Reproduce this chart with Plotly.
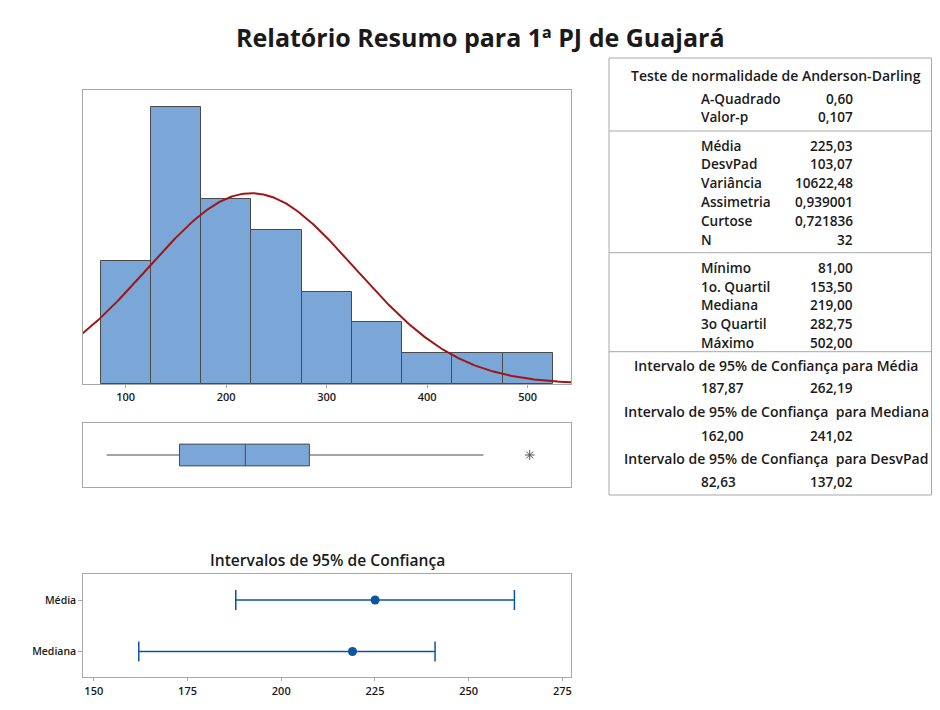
import numpy as np
import plotly.graph_objects as go

# ---------------- data ----------------
bin_centers = [100, 150, 200, 250, 300, 350, 400, 450, 500]
bin_counts = [4, 9, 6, 5, 3, 2, 1, 1, 1]
bin_width = 50

mean_val = 225.03
sd_val = 103.07
n_obs = 32

box_min = 81.0
box_q1 = 153.5
box_median = 219.0
box_q3 = 282.75
box_upper_whisker = 456.0
box_outliers = [502.0]

ci_labels = ["Mediana", "Média"]
ci_centers = [219.0, 225.03]
ci_low = [162.00, 187.87]
ci_high = [241.02, 262.19]

hist_ticks = [100, 200, 300, 400, 500]
ci_ticks = [150, 175, 200, 225, 250, 275]

ad_labels = ["A-Quadrado", "Valor-p"]
ad_values = ["0,60", "0,107"]
desc_labels = ["Média", "DesvPad", "Variância", "Assimetria", "Curtose", "N"]
desc_values = ["225,03", "103,07", "10622,48", "0,939001", "0,721836", "32"]
quart_labels = ["Mínimo", "1o. Quartil", "Mediana", "3o Quartil", "Máximo"]
quart_values = ["81,00", "153,50", "219,00", "282,75", "502,00"]
ci_titles = ["Intervalo de 95% de Confiança para Média",
             "Intervalo de 95% de Confiança  para Mediana",
             "Intervalo de 95% de Confiança  para DesvPad"]
ci_table_values = [("187,87", "262,19"), ("162,00", "241,02"), ("82,63", "137,02")]

title_text = "Relatório Resumo para 1ª PJ de Guajará"
ci_panel_title = "Intervalos de 95% de Confiança"

# ---------------- styling ----------------
W, H = 924, 694
OFF = 8  # page body margin
FONT = "Open Sans"
BAR_FILL = "#7BA6D8"
BAR_LINE = "#4A4A4A"
FRAME = "#A8A8A8"
CURVE = "#A01515"
BLUE = "#0B55A5"
TXT = "#1A1A1A"


def px(x):
    return (x - OFF) / W


def py(y):
    return 1 - (y - OFF) / H


fig = go.Figure()

# histogram
fig.add_trace(go.Bar(x=bin_centers, y=bin_counts, width=bin_width,
                     marker=dict(color=BAR_FILL, line=dict(color=BAR_LINE, width=1)),
                     xaxis="x", yaxis="y", showlegend=False, hoverinfo="skip"))

xs = np.linspace(40, 560, 400)
pdf = n_obs * bin_width * np.exp(-0.5 * ((xs - mean_val) / sd_val) ** 2) / (sd_val * np.sqrt(2 * np.pi))
fig.add_trace(go.Scatter(x=xs, y=pdf, mode="lines", line=dict(color=CURVE, width=2),
                         xaxis="x", yaxis="y", showlegend=False, hoverinfo="skip", cliponaxis=True))

# boxplot
fig.add_trace(go.Box(y=[0], q1=[box_q1], median=[box_median], q3=[box_q3],
                     lowerfence=[box_min], upperfence=[box_upper_whisker],
                     orientation="h", width=0.68, whiskerwidth=0,
                     fillcolor=BAR_FILL, line=dict(color=BAR_LINE, width=1),
                     boxpoints=False, xaxis="x2", yaxis="y2", showlegend=False, hoverinfo="skip"))
fig.add_trace(go.Scatter(x=box_outliers, y=[0] * len(box_outliers), mode="markers",
                         marker=dict(symbol="asterisk-open", size=8, color="#555555",
                                     line=dict(color="#555555", width=1)),
                         xaxis="x2", yaxis="y2", showlegend=False, hoverinfo="skip"))

# confidence intervals
ci_pos = list(range(len(ci_labels)))
fig.add_trace(go.Scatter(
    x=ci_centers, y=ci_pos, mode="markers",
    marker=dict(color=BLUE, size=9),
    error_x=dict(type="data", symmetric=False,
                 array=[h - c for h, c in zip(ci_high, ci_centers)],
                 arrayminus=[c - l for l, c in zip(ci_low, ci_centers)],
                 color=BLUE, thickness=1.5, width=10),
    xaxis="x3", yaxis="y3", showlegend=False, hoverinfo="skip"))

axis_common = dict(showline=True, linecolor=FRAME, linewidth=1, mirror=True,
                   showgrid=False, zeroline=False, fixedrange=True)

x_dom = [px(83), px(571)]
fig.update_layout(
    width=W, height=H,
    margin=dict(l=0, r=0, t=0, b=0),
    paper_bgcolor="white", plot_bgcolor="white",
    bargap=0,
    font=dict(family=FONT, color=TXT, size=11),
    xaxis=dict(domain=x_dom, anchor="y", range=[57.5, 543.1], tickvals=hist_ticks,
               ticks="outside", ticklen=3, tickcolor=FRAME,
               tickfont=dict(size=11, family=FONT, weight=600), **axis_common),
    yaxis=dict(domain=[py(384), py(90)], anchor="x", range=[0, 9.54],
               showticklabels=False, ticks="", **axis_common),
    xaxis2=dict(domain=x_dom, anchor="y2", range=[57.5, 543.1], showticklabels=False,
                ticks="", **axis_common),
    yaxis2=dict(domain=[py(487), py(423)], anchor="x2", range=[-1, 1],
                showticklabels=False, ticks="", **axis_common),
    xaxis3=dict(domain=[px(83.3), px(570.7)], anchor="y3", range=[147.2, 277.2],
                tickvals=ci_ticks, ticks="outside", ticklen=3, tickcolor=FRAME,
                tickfont=dict(size=11, family=FONT, weight=600), **axis_common),
    yaxis3=dict(domain=[py(677.3), py(574.3)], anchor="x3", range=[-0.5, 1.5],
                tickvals=ci_pos, ticktext=ci_labels, ticks="outside", ticklen=4,
                tickcolor=FRAME, tickfont=dict(size=10.5, family=FONT, weight=600),
                **axis_common),
)

annotations = []
shapes = []


def add_text(text, x, y, anchor="center", size=13.6, weight=600):
    annotations.append(dict(text=text, x=px(x), y=py(y), xref="paper", yref="paper",
                            xanchor=anchor, yanchor="middle", showarrow=False,
                            font=dict(family=FONT, size=size, color=TXT, weight=weight)))


add_text(title_text, 480, 37, size=25, weight=700)
add_text(ci_panel_title, 327, 560, size=15.6, weight=600)

# stats table
TBL_L, TBL_R, TBL_T, TBL_B = 609, 931.5, 58, 495
shapes.append(dict(type="rect", xref="paper", yref="paper", x0=px(TBL_L), x1=px(TBL_R),
                   y0=py(TBL_B), y1=py(TBL_T), line=dict(color=FRAME, width=1)))
for ys in [131, 252.7, 351.7]:
    shapes.append(dict(type="line", xref="paper", yref="paper", x0=px(TBL_L), x1=px(TBL_R),
                       y0=py(ys), y1=py(ys), line=dict(color=FRAME, width=1)))

LAB_X, VAL_X, CX = 699, 855, 776
add_text("Teste de normalidade de Anderson-Darling", CX, 75, size=14)
for i, (lab, val) in enumerate(zip(ad_labels, ad_values)):
    add_text(lab, LAB_X, 98.3 + i * 18.6, anchor="left")
    add_text(val, VAL_X, 98.3 + i * 18.6, anchor="right")
for i, (lab, val) in enumerate(zip(desc_labels, desc_values)):
    add_text(lab, LAB_X, 145 + i * 18.9, anchor="left")
    add_text(val, VAL_X, 145 + i * 18.9, anchor="right")
for i, (lab, val) in enumerate(zip(quart_labels, quart_values)):
    add_text(lab, LAB_X, 267.3 + i * 18.75, anchor="left")
    add_text(val, VAL_X, 267.3 + i * 18.75, anchor="right")
ci_head_y = [366, 411, 458.3]
ci_val_y = [387.7, 435, 481.7]
for t, hy, vy, (lo, hi) in zip(ci_titles, ci_head_y, ci_val_y, ci_table_values):
    add_text(t.replace("  ", "\u00a0 "), CX, hy, size=14)
    add_text(lo, LAB_X, vy, anchor="left")
    add_text(hi, VAL_X, vy, anchor="right")

fig.update_layout(annotations=annotations, shapes=shapes)
fig.write_html("out.html")
